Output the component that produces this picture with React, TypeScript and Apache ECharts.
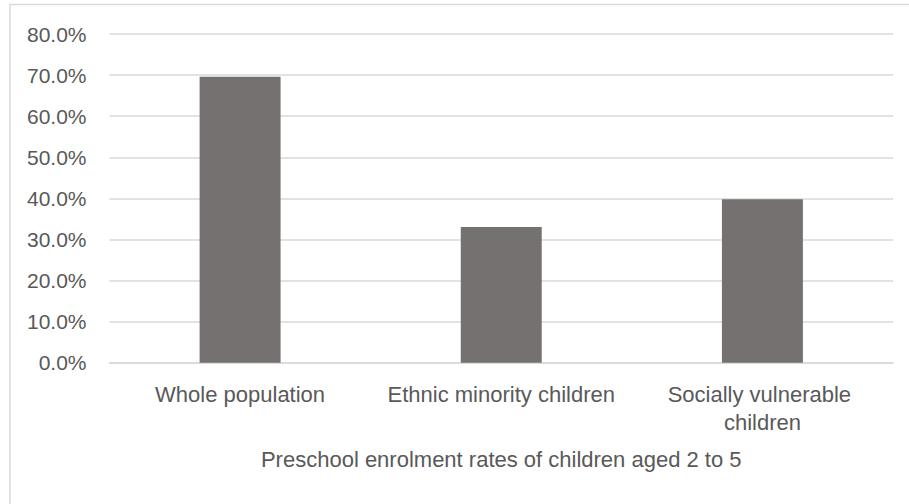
import React, { useEffect, useRef } from "react";
import * as echarts from "echarts";

const categories = ["Whole population", "Ethnic minority children", "Socially vulnerable children"];
const enrolmentRates = [69.6, 33.0, 39.8];
const axisTitle = "Preschool enrolment rates of children aged 2 to 5";

export default function App() {
  const ref = useRef<HTMLDivElement>(null);
  useEffect(() => {
    if (!ref.current) return;
    const chart = echarts.init(ref.current, null, { renderer: "svg" });
    chart.setOption({
      animation: false,
      backgroundColor: "#ffffff",
      textStyle: { fontFamily: "Liberation Sans" },
      grid: { left: 109.5, right: 16, top: 34, bottom: 141.3, containLabel: false },
      graphic: [
        {
          type: "rect",
          shape: { x: 10, y: 4.5, width: 1000, height: 600 },
          style: { fill: "none", stroke: "#d9d9d9", lineWidth: 1.5 },
          silent: true,
        },
      ],
      xAxis: {
        type: "category",
        data: categories,
        axisLine: { show: true, lineStyle: { color: "#d9d9d9", width: 1.5 } },
        axisTick: { show: false },
        axisLabel: {
          color: "#595959",
          fontSize: 22,
          margin: 18,
          lineHeight: 28,
          width: 250,
          overflow: "break",
          interval: 0,
        },
        name: axisTitle,
        nameLocation: "middle",
        nameGap: 86,
        nameTextStyle: { color: "#595959", fontSize: 22 },
      },
      yAxis: {
        type: "value",
        min: 0,
        max: 80,
        interval: 10,
        axisLine: { show: false },
        axisTick: { show: false },
        axisLabel: {
          color: "#595959",
          fontSize: 21,
          margin: 23,
          formatter: (v: number) => v.toFixed(1) + "%",
        },
        splitLine: { lineStyle: { color: "#d9d9d9", width: 1.5 } },
      },
      series: [
        {
          type: "bar",
          data: enrolmentRates,
          barWidth: "31%",
          itemStyle: { color: "#767171" },
        },
      ],
    });
    return () => chart.dispose();
  }, []);
  return (
    <div
      ref={ref}
      style={{ position: "fixed", left: 0, top: 0, width: 909, height: 504 }}
    />
  );
}
